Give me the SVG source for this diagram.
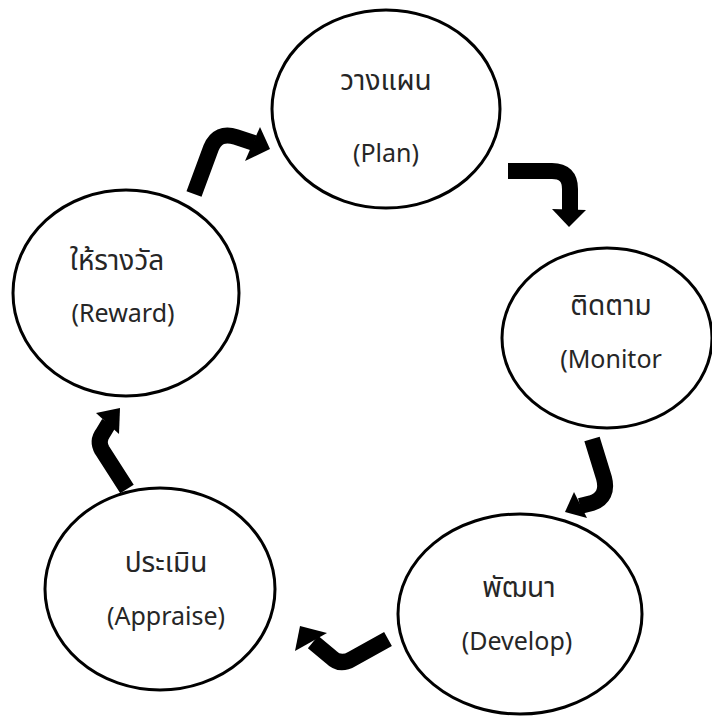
<svg xmlns="http://www.w3.org/2000/svg" width="712" height="727" viewBox="0 0 712 727">
<style>
.node{fill:#fff;stroke:#000;stroke-width:3}
.t{font-family:"Noto Sans","Noto Sans Thai","Leelawadee UI","DejaVu Sans",sans-serif;font-size:25px;fill:#262626;text-anchor:middle}
.th{font-size:28px}
.shaft{fill:none;stroke:#000;stroke-width:16;stroke-linejoin:round}
.head{fill:#000}
</style>
<rect width="712" height="727" fill="#fff"/>
<g id="connectors">
<path class="shaft" d="M194 194 L211 148 Q218 131 236 137 L254 143"/>
<polygon class="head" points="260,127 270,149 245,161"/>
<path class="shaft" d="M508 171 L552 171 Q570 171 570 189 L570 211"/>
<polygon class="head" points="552,209 586,210 569,227"/>
<path class="shaft" d="M592 439 L604 478 Q609 497 592 503 L580 506"/>
<polygon class="head" points="574,492 587,518 565,512"/>
<path class="shaft" d="M388 639 L352 659 Q340 666 331 657 L313 642"/>
<polygon class="head" points="300,626 327,633 295,651"/>
<path class="shaft" d="M127 489 L102 450 Q97 441 103 433 L109 423"/>
<polygon class="head" points="120,408 96,413 119,434"/>
</g>
<g id="plan">
<ellipse class="node" cx="386" cy="109" rx="114" ry="99"/>
<text class="t th" x="386" y="90">วางแผน</text>
<text class="t" x="386" y="162">(Plan)</text>
</g>
<g id="monitor">
<ellipse class="node" cx="607" cy="338" rx="105" ry="90"/>
<text class="t th" x="611" y="315">ติดตาม</text>
<text class="t" x="611" y="368">(Monitor</text>
</g>
<g id="develop">
<ellipse class="node" cx="520" cy="614" rx="122" ry="100"/>
<text class="t th" x="519" y="597">พัฒนา</text>
<text class="t" x="517" y="650">(Develop)</text>
</g>
<g id="appraise">
<ellipse class="node" cx="160" cy="589" rx="115" ry="101"/>
<text class="t th" x="166" y="572">ประเมิน</text>
<text class="t" x="166" y="625">(Appraise)</text>
</g>
<g id="reward">
<ellipse class="node" cx="126" cy="293" rx="113" ry="103"/>
<text class="t th" x="117" y="270">ให้รางวัล</text>
<text class="t" x="123" y="322">(Reward)</text>
</g>
</svg>
